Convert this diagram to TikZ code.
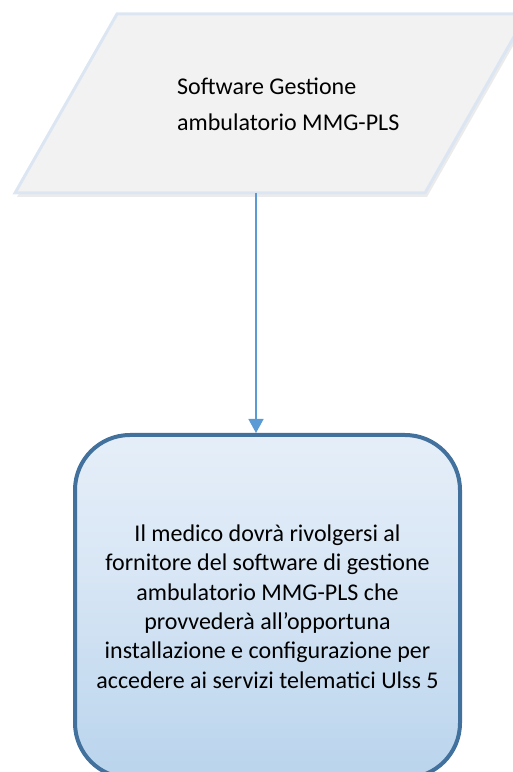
\documentclass[tikz,border=0pt]{standalone}
\usepackage{fontspec}
\setmainfont{Carlito}
\usepackage{tikz}
\usetikzlibrary{arrows.meta,positioning}
\definecolor{parafill}{RGB}{242,242,242}
\definecolor{paraline}{RGB}{220,230,242}
\definecolor{boxline}{RGB}{65,113,156}
\definecolor{arrowcol}{RGB}{91,155,213}
\definecolor{gradtop}{RGB}{246,249,253}
\definecolor{gradmid}{RGB}{216,230,245}
\definecolor{gradlow}{RGB}{180,209,235}
\definecolor{gradbot}{RGB}{200,220,240}
\pgfdeclareverticalshading{boxgrad}{100bp}{color(0bp)=(gradbot); color(6bp)=(gradlow); color(20bp)=(gradlow); color(55bp)=(gradmid); color(100bp)=(gradtop)}

\begin{document}
\begin{tikzpicture}[>={Triangle[width=15bp,length=14bp]},line join=miter]
%%
\useasboundingbox (0bp,0bp) rectangle (513bp,772bp);
\clip (0bp,0bp) rectangle (513bp,772bp);
  % parallelogram with its shadow
  \fill [black,opacity=0.08] (17bp,575bp) -- (427bp,575bp) -- (529bp,754bp) -- (119bp,754bp) -- cycle;
  \draw [line width=3bp,draw=paraline,fill=parafill] (117bp,758bp) -- (527bp,758bp) -- (425bp,579bp) -- (15bp,579bp) -- cycle;
  \node (soft) at (177bp,668bp) [anchor=west,inner sep=0pt,align=left,font=\fontsize{24bp}{36bp}\selectfont] {Software Gestione\\ambulatorio MMG-PLS};
  \coordinate (out) at (256bp,579bp);
  \node (medico) at (267.5bp,165.5bp) [draw=boxline,line width=4bp,rounded corners=55bp,shading=boxgrad,minimum width=385bp,minimum height=343bp,align=center,inner sep=0pt,font=\fontsize{24bp}{29.4bp}\selectfont] {Il medico dovrà rivolgersi al\\fornitore del software di gestione\\ambulatorio MMG-PLS che\\provvederà all’opportuna\\installazione e configurazione per\\accedere ai servizi telematici Ulss 5};
  \draw [->,draw=arrowcol,fill=arrowcol,line width=1.5bp] (out) -- (out |- medico.north);
%
\end{tikzpicture}
\end{document}
